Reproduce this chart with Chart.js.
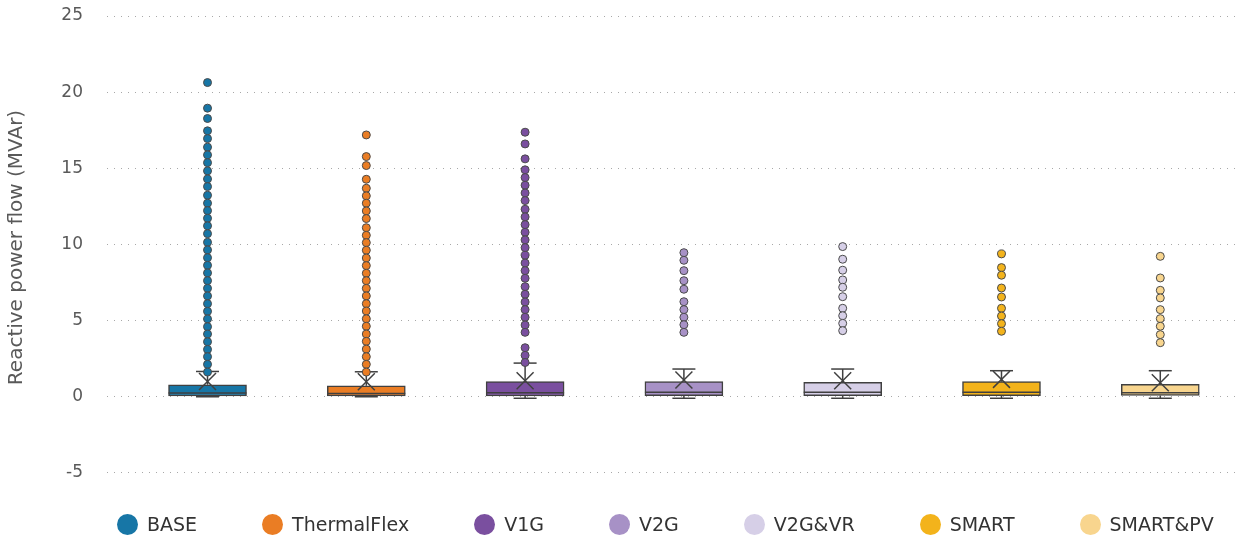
<!DOCTYPE html>
<html>
<head>
<meta charset="utf-8">
<script src="https://cdn.jsdelivr.net/npm/chart.js@4.4.0/dist/chart.umd.min.js"></script>
<style>
  html, body { margin: 0; padding: 0; background: #fff; }
  #contenedor { position: relative; width: 1246px; height: 540px; }
  #leyenda {
    position: absolute; left: 117px; top: 513px; height: 22px;
    display: flex; align-items: center; gap: 65px;
    font-family: 'DejaVu Sans', sans-serif; font-size: 19px; color: #333333;
  }
  #leyenda .item { display: flex; align-items: center; white-space: nowrap; }
  #leyenda .circulo { width: 21px; height: 21px; border-radius: 50%; margin-right: 9px; }
</style>
</head>
<body>
<div id="contenedor">
  <canvas id="boxChart"></canvas>
  <div id="leyenda"></div>
</div>
<script>
// Escenarios y colores
const escenarios = ['BASE', 'ThermalFlex', 'V1G', 'V2G', 'V2G&VR', 'SMART', 'SMART&PV'];
const colores = ['#1776a6', '#ea7d24', '#7a4f9f', '#a791c6', '#d6cfe7', '#f3b31b', '#f8d58e'];

// Estadisticos de cada caja (MVAr)
const bigoteInf = [0, 0, -0.1, -0.1, -0.1, -0.1, -0.1];
const cuartil1 = [0.05, 0.05, 0.05, 0.07, 0.07, 0.07, 0.09];
const mediana = [0.24, 0.22, 0.26, 0.29, 0.29, 0.29, 0.26];
const cuartil3 = [0.79, 0.72, 0.99, 0.99, 0.95, 0.99, 0.81];
const bigoteSup = [1.66, 1.64, 2.21, 1.82, 1.82, 1.71, 1.71];
const media = [1.0, 0.99, 1.05, 1.1, 1.05, 1.14, 0.92];

// Valores atipicos
const atipicosBASE = [20.63, 18.95, 18.27, 17.46, 16.95, 16.39, 15.88, 15.37, 14.83, 14.30, 13.80, 13.23, 12.71, 12.22, 11.72, 11.22, 10.71, 10.14, 9.64, 9.13, 8.63, 8.13, 7.62, 7.12, 6.62, 6.11, 5.61, 5.11, 4.60, 4.12, 3.61, 3.11, 2.63, 2.13, 1.62];
const atipicosThermal = [17.19, 15.77, 15.18, 14.28, 13.69, 13.19, 12.71, 12.20, 11.70, 11.10, 10.60, 10.12, 9.62, 9.11, 8.61, 8.11, 7.62, 7.12, 6.62, 6.11, 5.63, 5.12, 4.63, 4.12, 3.64, 3.13, 2.63, 2.13, 1.62];
const atipicosV1G = [17.37, 16.60, 15.62, 14.90, 14.39, 13.89, 13.38, 12.88, 12.31, 11.81, 11.30, 10.80, 10.30, 9.79, 9.29, 8.78, 8.28, 7.78, 7.23, 6.73, 6.22, 5.72, 5.22, 4.71, 4.23, 3.22, 2.72, 2.25];
const atipicosV2G = [9.46, 8.96, 8.28, 7.62, 7.06, 6.24, 5.72, 5.22, 4.73, 4.23];
const atipicosV2GVR = [9.86, 9.03, 8.31, 7.67, 7.19, 6.57, 5.81, 5.32, 4.82, 4.34];
const atipicosSMART = [9.38, 8.48, 7.98, 7.14, 6.55, 5.81, 5.30, 4.80, 4.30];
const atipicosSMARTPV = [9.22, 7.80, 6.99, 6.49, 5.72, 5.13, 4.63, 4.08, 3.55];
const atipicos = [atipicosBASE, atipicosThermal, atipicosV1G, atipicosV2G, atipicosV2GVR, atipicosSMART, atipicosSMARTPV];

const gris = '#404040';
const fuente = "'DejaVu Sans', sans-serif";

// Bigotes: tramo superior e inferior de cada caja, separados por null
const tramos = [];
escenarios.forEach((_, i) => {
  tramos.push({ x: i, y: cuartil3[i] }, { x: i, y: bigoteSup[i] }, { x: i, y: null });
  tramos.push({ x: i, y: cuartil1[i] }, { x: i, y: bigoteInf[i] }, { x: i, y: null });
});

const topes = [];
escenarios.forEach((_, i) => {
  topes.push({ x: i, y: bigoteSup[i] }, { x: i, y: bigoteInf[i] });
});

const datasetsAtipicos = atipicos.map((valores, i) => ({
  type: 'scatter',
  label: escenarios[i],
  data: valores.map(v => ({ x: i, y: v })),
  backgroundColor: colores[i],
  borderColor: '#4a4a4a',
  borderWidth: 1,
  pointRadius: 4,
  order: 1
}));

const ctx = document.getElementById('boxChart').getContext('2d');
const configuracion = {
  type: 'bar',
  data: {
    datasets: [
      {
        label: 'cajas',
        data: escenarios.map((_, i) => ({ x: i, y: [cuartil1[i], cuartil3[i]] })),
        backgroundColor: colores,
        borderColor: gris,
        borderWidth: 1.5,
        borderSkipped: false,
        barThickness: 78,
        order: 6
      },
      {
        type: 'line',
        label: 'bigotes',
        data: tramos,
        borderColor: gris,
        borderWidth: 1.5,
        pointRadius: 0,
        spanGaps: false,
        order: 5
      },
      {
        type: 'scatter',
        label: 'topes',
        data: topes,
        pointStyle: 'line',
        pointRadius: 11.5,
        borderColor: gris,
        borderWidth: 1.5,
        order: 4
      },
      {
        type: 'scatter',
        label: 'mediana',
        data: escenarios.map((_, i) => ({ x: i, y: mediana[i] })),
        pointStyle: 'line',
        pointRadius: 39,
        borderColor: gris,
        borderWidth: 1.5,
        order: 3
      },
      {
        type: 'scatter',
        label: 'media',
        data: escenarios.map((_, i) => ({ x: i, y: media[i] })),
        pointStyle: 'crossRot',
        pointRadius: 12,
        borderColor: gris,
        borderWidth: 1.5,
        order: 2
      },
      ...datasetsAtipicos
    ]
  },
  options: {
    responsive: true,
    maintainAspectRatio: false,
    animation: false,
    events: [],
    layout: { autoPadding: false, padding: { top: 16, right: 6, bottom: 61, left: 0 } },
    scales: {
      x: {
        type: 'linear',
        min: -0.633,
        max: 6.502,
        offset: false,
        display: false
      },
      y: {
        min: -5.4,
        max: 25,
        afterFit: (scale) => { scale.width = 107; },
        ticks: {
          stepSize: 5,
          includeBounds: false,
          color: '#595959',
          padding: 0,
          font: { family: fuente, size: 17 }
        },
        grid: {
          color: '#a8a8a8',
          lineWidth: 1,
          drawTicks: true,
          tickLength: 24,
          tickColor: 'rgba(0,0,0,0)'
        },
        border: { display: false, dash: [1, 6] },
        title: {
          display: true,
          text: 'Reactive power flow (MVAr)',
          color: '#595959',
          font: { family: fuente, size: 20 },
          padding: { top: 5, bottom: 0 }
        }
      }
    },
    plugins: {
      tooltip: { enabled: false },
      legend: { display: false }
    }
  }
};
var boxChart = new Chart(ctx, configuracion);

// Leyenda en HTML con los mismos colores
const leyenda = document.getElementById('leyenda');
escenarios.forEach((nombre, i) => {
  const item = document.createElement('span');
  item.className = 'item';
  const circulo = document.createElement('span');
  circulo.className = 'circulo';
  circulo.style.backgroundColor = colores[i];
  const texto = document.createElement('span');
  texto.textContent = nombre;
  item.appendChild(circulo);
  item.appendChild(texto);
  leyenda.appendChild(item);
});
</script>
</body>
</html>
